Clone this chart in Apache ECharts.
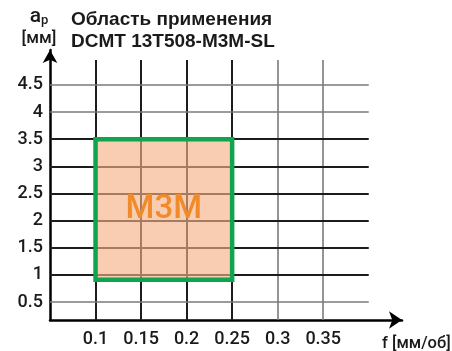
<!DOCTYPE html>
<html>
<head>
<meta charset="utf-8">
<script src="https://cdn.jsdelivr.net/npm/echarts@6/dist/echarts.min.js"></script>
<style>
  html, body { margin: 0; padding: 0; background: #fff; }
  #chart { width: 452px; height: 351px; }
</style>
</head>
<body>
<div id="chart"></div>
<script>
// Feed-rate ticks, f [мм/об]
const feedTicks = [0.1, 0.15, 0.2, 0.25, 0.3, 0.35];
// Depth-of-cut ticks, ap [мм]
const depthTicks = [0.5, 1, 1.5, 2, 2.5, 3, 3.5, 4, 4.5];
// Application range of the chipbreaker: [f from, f to] and [ap from, ap to]
const rangeFeed = [0.1, 0.25];
const rangeDepth = [0.91, 3.5];
const rangeName = 'M3M';
// Extents of the drawn grid
const gridFeed = [0.05, 0.40];
const gridDepth = [0.17, 4.96];

const FONT = '"Liberation Sans", Arial, sans-serif';
const LABEL_FONT = 'Roboto, "Liberation Sans", sans-serif';
const DARK = '#1c1c1c';
const GRAY = '#7a7a7a';

const inside = (v, r) => v >= r[0] - 1e-9 && v <= r[1] + 1e-9;

// Grid lines as mark lines so each one can carry its own tone
const gridLines = [];
feedTicks.forEach(v => {
  const dark = inside(v, rangeFeed);
  gridLines.push([
    { coord: [v, gridDepth[0]], lineStyle: { color: dark ? DARK : GRAY, width: dark ? 2 : 1.6 } },
    { coord: [v, gridDepth[1]] }
  ]);
});
depthTicks.forEach(v => {
  const dark = inside(v, [1, rangeDepth[1]]);
  gridLines.push([
    { coord: [gridFeed[0], v], lineStyle: { color: dark ? DARK : GRAY, width: dark ? 2 : 1.6 } },
    { coord: [gridFeed[1], v] }
  ]);
});

// Outline of the application range
const rangeOutline = [
  [rangeFeed[0], rangeDepth[0]],
  [rangeFeed[0], rangeDepth[1]],
  [rangeFeed[1], rangeDepth[1]],
  [rangeFeed[1], rangeDepth[0]],
  [rangeFeed[0], rangeDepth[0]]
];

const chart = echarts.init(document.getElementById('chart'), null, { renderer: 'canvas' });
chart.setOption({
  animation: false,
  backgroundColor: '#fff',
  title: [
    {
      text: 'Область применения\nDCMT 13T508-M3M-SL',
      left: 66, top: 4,
      textStyle: { fontFamily: FONT, fontWeight: 'bold', fontSize: 19, lineHeight: 22, color: '#1a1a1a' }
    },
    {
      text: '{a|a}{p|p}\n{u|[мм]}',
      left: 34, top: 0, textAlign: 'center',
      textStyle: {
        rich: {
          a: { fontFamily: LABEL_FONT, fontWeight: 500, fontSize: 21, color: '#1a1a1a', lineHeight: 22, verticalAlign: 'bottom' },
          p: { fontFamily: LABEL_FONT, fontWeight: 500, fontSize: 13, color: '#1a1a1a', lineHeight: 22, verticalAlign: 'bottom' },
          u: { fontFamily: LABEL_FONT, fontWeight: 500, fontSize: 17, color: '#1a1a1a', lineHeight: 24 }
        }
      }
    },
    {
      text: 'f [мм/об]',
      left: 377, top: 330,
      textStyle: { fontFamily: LABEL_FONT, fontWeight: 500, fontSize: 16.5, color: '#1a1a1a' }
    }
  ],
  grid: { left: 50, right: 50, top: 50, bottom: 31 },
  xAxis: {
    type: 'value',
    min: 0.05, max: 0.4365,
    axisLine: {
      lineStyle: { color: '#000', width: 2.5 },
      symbol: ['none', 'arrow'], symbolSize: [13, 13], symbolOffset: [0, 0]
    },
    axisTick: { show: false },
    splitLine: { show: false },
    axisLabel: {
      customValues: feedTicks,
      margin: 10,
      fontFamily: LABEL_FONT, fontWeight: 500, fontSize: 18, color: '#1a1a1a',
      formatter: v => String(+v.toFixed(2))
    }
  },
  yAxis: {
    type: 'value',
    min: 0.17, max: 5.144,
    axisLine: {
      lineStyle: { color: '#000', width: 2.5 },
      symbol: ['none', 'arrow'], symbolSize: [11, 13], symbolOffset: [0, 0]
    },
    axisTick: { show: false },
    splitLine: { show: false },
    axisLabel: {
      customValues: depthTicks,
      margin: 7,
      fontFamily: LABEL_FONT, fontWeight: 500, fontSize: 18, color: '#1a1a1a',
      formatter: v => String(+v.toFixed(1))
    }
  },
  series: [
    {
      type: 'line',
      data: [],
      z: 1,
      silent: true,
      markLine: {
        silent: true,
        z: 1,
        symbol: 'none',
        label: { show: false },
        lineStyle: { type: 'solid' },
        data: gridLines
      }
    },
    {
      type: 'line',
      data: [],
      z: 3,
      silent: true,
      markArea: {
        silent: true,
        z: 3,
        itemStyle: { color: 'rgba(246, 176, 134, 0.64)' },
        label: {
          show: true,
          position: 'inside',
          fontFamily: LABEL_FONT, fontWeight: 500, fontSize: 33, color: '#f08a2a'
        },
        data: [[
          { name: rangeName, coord: [rangeFeed[0], rangeDepth[0]] },
          { coord: [rangeFeed[1], rangeDepth[1]] }
        ]]
      }
    },
    {
      type: 'line',
      data: rangeOutline,
      z: 6,
      silent: true,
      symbol: 'none',
      lineStyle: { color: '#0fa44f', width: 4.5, join: 'miter', cap: 'square' }
    }
  ]
});
</script>
</body>
</html>
